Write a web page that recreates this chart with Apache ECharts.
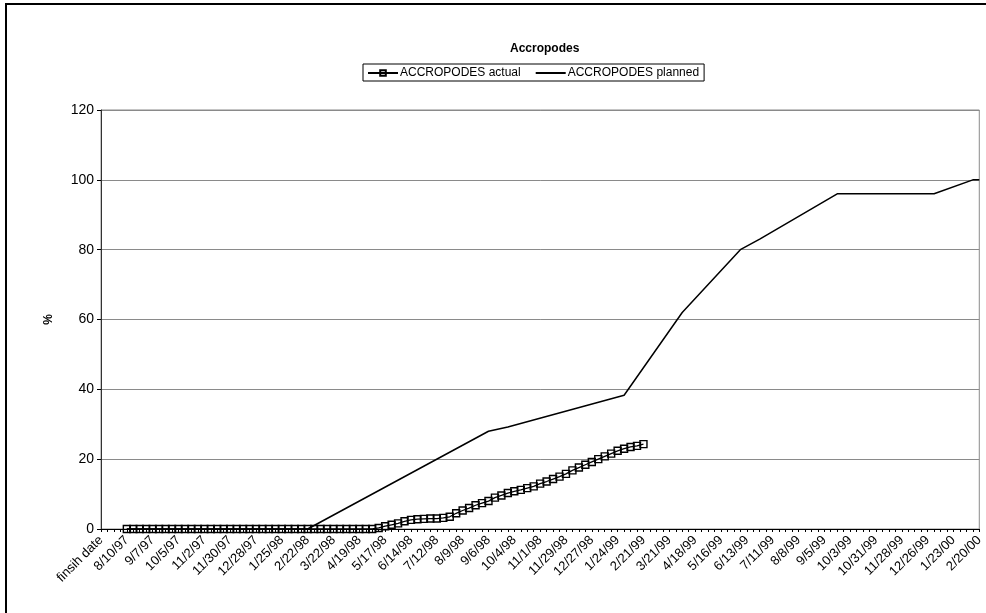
<!DOCTYPE html>
<html>
<head>
<meta charset="utf-8">
<script src="https://cdn.jsdelivr.net/npm/echarts@6/dist/echarts.min.js"></script>
<style>
  html, body { margin: 0; padding: 0; background: #fff; }
  #chart { width: 986px; height: 613px; }
</style>
</head>
<body>
<div id="chart"></div>
<script>
// Weekly reporting dates, preceded by the header cell of the date column
const firstCategory = 'finsih date';
const firstWeek = [1997, 7, 20];   // 7/20/97
const weekCount = 136;             // through 2/20/00

// Cumulative progress, % — actual placement, one value per week from actualFrom
const actualFrom = '8/10/97';
const actualValues = [
  0, 0, 0, 0, 0, 0, 0, 0, 0, 0,
  0, 0, 0, 0, 0, 0, 0, 0, 0, 0,
  0, 0, 0, 0, 0, 0, 0, 0, 0, 0,
  0, 0, 0, 0, 0, 0, 0, 0, 0,
  0.3, 0.8, 1.2, 1.6, 2.2, 2.6, 2.8, 2.9, 3.0, 3.0,
  3.2, 3.5, 4.5, 5.3, 6.0, 6.8, 7.4, 8.0, 9.0, 9.6,
  10.3, 10.8, 11.2, 11.7, 12.2, 13.0, 13.6, 14.3, 15.0, 15.8,
  16.8, 17.6, 18.4, 19.2, 20.0, 20.8, 21.6, 22.4, 23.0, 23.5,
  23.8, 24.3
];

// Planned programme: break points of the schedule line
const plannedDates  = ['8/10/97', '2/22/98', '9/6/98', '9/27/98', '1/31/99', '4/4/99', '6/6/99', '6/27/99', '9/19/99', '1/2/00', '2/13/00', '2/20/00'];
const plannedValues = [0, 0, 28, 29.2, 38.3, 62, 80, 83, 96, 96, 100, 100];

const yTicks = [0, 20, 40, 60, 80, 100, 120];

function buildCategories() {
  const out = [firstCategory];
  const t0 = Date.UTC(firstWeek[0], firstWeek[1] - 1, firstWeek[2]);
  for (let i = 0; i < weekCount; i++) {
    const d = new Date(t0 + i * 7 * 86400000);
    const yy = String(d.getUTCFullYear() % 100).padStart(2, '0');
    out.push((d.getUTCMonth() + 1) + '/' + d.getUTCDate() + '/' + yy);
  }
  return out;
}

const categories = buildCategories();
const actualStart = categories.indexOf(actualFrom);
const actualData = actualValues.map((v, i) => [categories[actualStart + i], v]);
const plannedData = plannedDates.map((c, i) => [c, plannedValues[i]]);

const FONT = '"Liberation Sans", Arial, sans-serif';
const chart = echarts.init(document.getElementById('chart'), null, { renderer: 'canvas' });

chart.setOption({
  backgroundColor: '#ffffff',
  animation: false,
  textStyle: { fontFamily: FONT, color: '#000' },
  title: {
    text: 'Accropodes',
    left: 505,
    top: 38,
    textStyle: { fontFamily: FONT, fontSize: 12, fontWeight: 'bold', color: '#000' }
  },
  legend: {
    left: 363,
    top: 64,
    padding: [3, 5, 2, 4],
    itemGap: 14,
    itemWidth: 30,
    itemHeight: 7,
    borderColor: '#000',
    borderWidth: 1,
    textStyle: { fontFamily: FONT, fontSize: 12, color: '#000', padding: [0, 0, 0, -3] },
    data: [
      { name: 'ACCROPODES actual' },
      { name: 'ACCROPODES planned', itemStyle: { opacity: 0 } }
    ]
  },
  graphic: [{
    type: 'rect',
    silent: true,
    shape: { x: 6, y: 4, width: 1100, height: 800 },
    style: { fill: 'none', stroke: '#000', lineWidth: 2 }
  }],
  grid: {
    left: 101,
    right: 6,
    top: 110,
    bottom: 84,
    show: true,
    borderColor: '#8a8a8a',
    borderWidth: 1,
    backgroundColor: '#fff'
  },
  xAxis: {
    type: 'category',
    data: categories,
    boundaryGap: false,
    axisLine: { lineStyle: { color: '#000', width: 1 } },
    axisTick: { interval: 0, length: 3, lineStyle: { color: '#000' } },
    axisLabel: {
      interval: 3,
      rotate: 45,
      margin: 9,
      fontFamily: FONT,
      fontSize: 13,
      color: '#000'
    },
    splitLine: { show: false }
  },
  yAxis: {
    type: 'value',
    min: yTicks[0],
    max: yTicks[yTicks.length - 1],
    interval: yTicks[1] - yTicks[0],
    name: '%',
    nameLocation: 'middle',
    nameRotate: 90,
    nameGap: 46,
    nameTextStyle: { fontFamily: FONT, fontSize: 12, fontWeight: 'bold', color: '#000' },
    axisLine: { show: true, lineStyle: { color: '#333', width: 1 } },
    axisTick: { show: true, length: 4, lineStyle: { color: '#000' } },
    axisLabel: { fontFamily: FONT, fontSize: 14, color: '#000', margin: 7 },
    splitLine: { lineStyle: { color: '#8a8a8a', width: 1 } }
  },
  series: [
    {
      name: 'ACCROPODES actual',
      type: 'line',
      data: actualData,
      symbol: 'rect',
      symbolSize: 7,
      showAllSymbol: true,
      lineStyle: { color: '#000', width: 1.3 },
      itemStyle: { color: 'rgba(255,255,255,0)', borderColor: '#000', borderWidth: 1.4 },
      z: 3
    },
    {
      name: 'ACCROPODES planned',
      type: 'line',
      data: plannedData,
      symbol: 'none',
      lineStyle: { color: '#000', width: 1.5 },
      itemStyle: { color: '#000' },
      z: 4
    }
  ]
});
</script>
</body>
</html>
